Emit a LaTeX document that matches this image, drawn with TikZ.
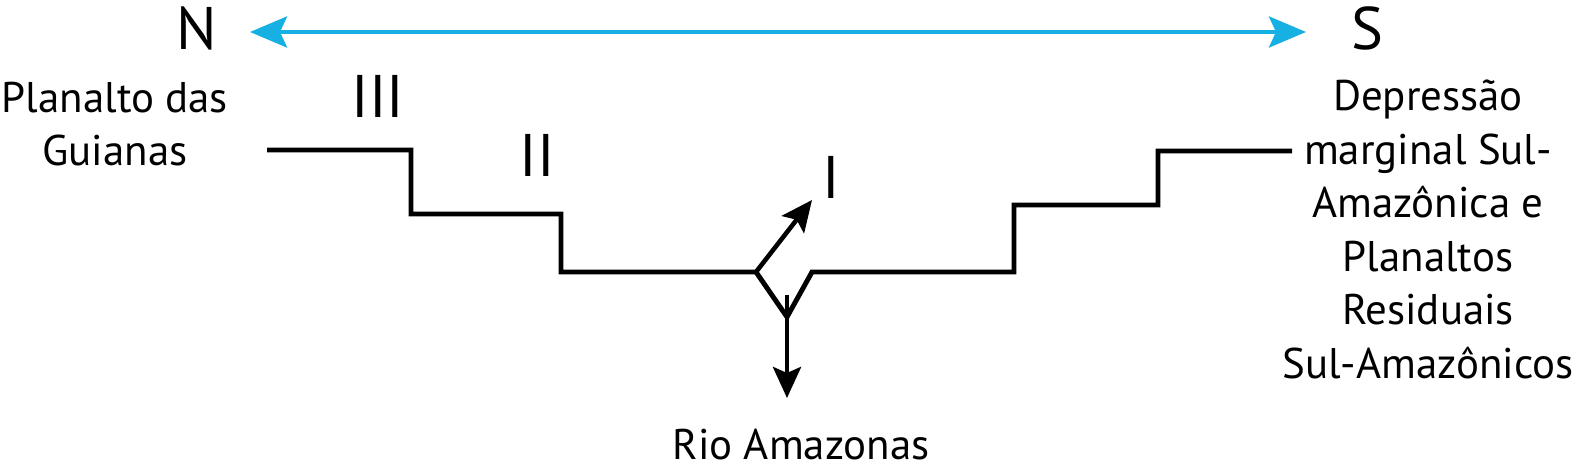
\documentclass[tikz,border=0pt]{standalone}
\usepackage{fontspec}
\setmainfont{PT Sans}
\usepackage{tikz}
\usetikzlibrary{arrows.meta}
\definecolor{colorAxis}{RGB}{23,176,226}
\tikzset{
  profile/.style={black, line width=1.4pt, line join=miter},
  axisarrow/.style={colorAxis, line width=1.15pt, {Stealth[length=0.37cm, width=0.31cm, inset=0.07cm]}-{Stealth[length=0.37cm, width=0.31cm, inset=0.07cm]}},
  flowarrow/.style={black, line width=1.3pt, -{Stealth[length=0.31cm, width=0.28cm, inset=0.06cm]}},
  txt/.style={inner sep=0pt, anchor=base, align=center, font=\fontsize{12.2}{15.2}\selectfont},
  big/.style={inner sep=0pt, anchor=base, font=\fontsize{17.1}{20}\selectfont}
}
\begin{document}
\begin{tikzpicture}[x=0.01cm, y=-0.01cm]
\useasboundingbox (0,0) rectangle (1582,473);
\node[big] (N) at (197,50) {N};
\node[big] (S) at (1367,50) {S};
\coordinate (axisN) at (250,32);
\coordinate (axisS) at (1306,32);
\draw[axisarrow] (axisN) -- (axisS);
\node[txt] (guianas) at (115,166) {Planalto das\\Guianas};
\node[txt] (depressao) at (1428,378) {Depressão\\marginal Sul-\\Amazônica e\\Planaltos\\Residuais\\Sul-Amazônicos};
\node[big] (lvl3) at (378,118) {III};
\node[big] (lvl2) at (537,177) {II};
\node[big] (lvl1) at (831,199) {I};
\node[txt] (rio) at (801,459) {Rio Amazonas};
\draw[profile] (267,150) -- (411,150) -- (411,214) -- (561,214) -- (561,272) -- (756,272)
  -- (787,317) -- (812,272) -- (1014,272) -- (1014,205) -- (1158,205) -- (1158,151) -- (1292,151);
\coordinate (bank) at (756,272);
\coordinate (riverTop) at (787,295);
\coordinate (riverEnd) at (787,398);
\coordinate (upEnd) at (812,200);
\draw[flowarrow] (bank) -- (upEnd);
\draw[flowarrow] (riverTop) -- (riverEnd);
\end{tikzpicture}
\end{document}
